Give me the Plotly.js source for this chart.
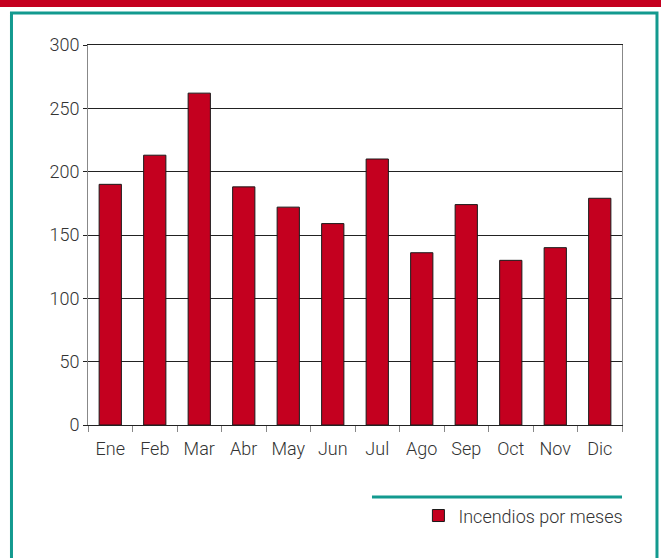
<!DOCTYPE html>
<html>
<head>
<meta charset="utf-8">
<script src="https://cdn.plot.ly/plotly-3.0.1.min.js"></script>
<style>
  body { margin: 0; background: #fff; }
  #plot { width: 661px; height: 558px; }
</style>
</head>
<body>
<div id="plot"></div>
<script>
// Months and fire counts
let meses = ["Ene", "Feb", "Mar", "Abr", "May", "Jun", "Jul", "Ago", "Sep", "Oct", "Nov", "Dic"];
let incendios = [190, 213, 262, 188, 172, 159, 210, 136, 174, 130, 140, 179];
let yTicks = [0, 50, 100, 150, 200, 250, 300];

let fuente = "Roboto, 'Open Sans', sans-serif";

// Bar trace
let trace1 = {
    x: meses,
    y: incendios,
    type: "bar",
    name: "Incendios por meses",
    marker: { color: "#c4001f", line: { color: "#1a1a1a", width: 1 } }
};

let layout = {
    width: 661,
    height: 558,
    margin: { l: 88, r: 39, t: 45, b: 133 },
    paper_bgcolor: "#fff",
    plot_bgcolor: "#fff",
    bargap: 0.5,
    font: { family: fuente, size: 18, color: "#333", weight: 300 },
    showlegend: true,
    legend: {
        x: 1.012, xanchor: "right", y: -0.239, yanchor: "middle",
        font: { family: fuente, size: 18, color: "#333", weight: 300 },
        bgcolor: "rgba(0,0,0,0)"
    },
    xaxis: {
        type: "category",
        showline: true, linecolor: "#222", linewidth: 1, mirror: true,
        ticks: "outside", tickson: "boundaries", ticklen: 6, tickcolor: "#888",
        ticklabelstandoff: 7,
        showgrid: false,
        tickfont: { family: fuente, size: 18, color: "#333", weight: 300 }
    },
    yaxis: {
        range: [0, 300],
        tickvals: yTicks,
        showline: true, linecolor: "#888", linewidth: 1, mirror: true,
        ticks: "outside", ticklen: 4, tickcolor: "#222",
        showgrid: true, gridcolor: "#222", gridwidth: 1,
        zeroline: false,
        tickfont: { family: fuente, size: 18, color: "#333", weight: 300 }
    },
    shapes: [
        // red strip at the top
        { type: "rect", xref: "paper", yref: "paper", x0: -0.17, x1: 1.08, y0: 1.1, y1: 1.13,
          fillcolor: "#c4001f", line: { width: 0 }, layer: "below" },
        // teal frame
        { type: "rect", xref: "paper", yref: "paper", x0: -0.1433, x1: 1.0655, y0: -0.40, y1: 1.0842,
          line: { color: "#139a8f", width: 3 }, fillcolor: "rgba(0,0,0,0)", layer: "below" },
        // teal line above legend
        { type: "line", xref: "paper", yref: "paper", x0: 0.5318, x1: 1.0, y0: -0.1895, y1: -0.1895,
          line: { color: "#139a8f", width: 3 } }
    ]
};

Plotly.newPlot("plot", [trace1], layout, { displayModeBar: false });
</script>
</body>
</html>
